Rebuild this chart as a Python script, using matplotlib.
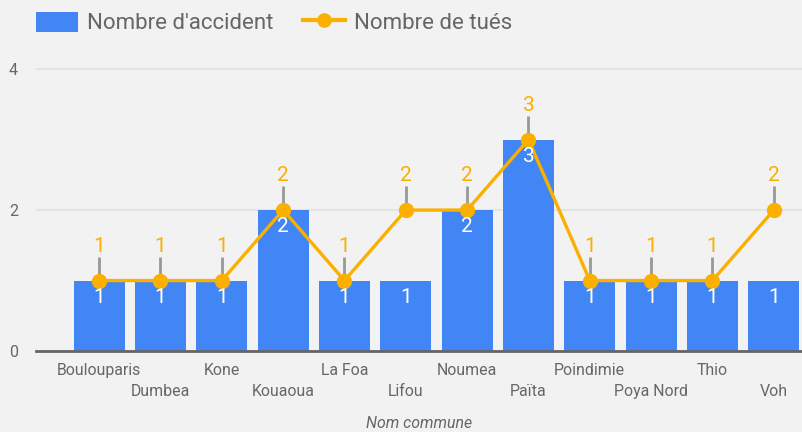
import matplotlib.pyplot as plt
from matplotlib.patches import Patch
from matplotlib.lines import Line2D
import numpy as np

plt.rcParams['font.family'] = ['Roboto', 'DejaVu Sans']

# données
communes = ['Boulouparis', 'Dumbea', 'Kone', 'Kouaoua', 'La Foa', 'Lifou',
            'Noumea', 'Païta', 'Poindimie', 'Poya Nord', 'Thio', 'Voh']
accidents = [1, 1, 1, 2, 1, 1, 2, 3, 1, 1, 1, 1]
tues = [1, 1, 1, 2, 1, 2, 2, 3, 1, 1, 1, 2]

BLUE = '#4285F4'
ORANGE = '#FBB000'
GREY = '#666666'
BG = '#F2F2F2'

fig = plt.figure(figsize=(8.02, 4.32), dpi=100, facecolor=BG)
ax = fig.add_axes([36 / 802, 1 - 351 / 432, 1 - 36 / 802, (351 - 48) / 432])
ax.set_facecolor(BG)

x = np.arange(len(communes))
ax.bar(x, accidents, width=0.83, color=BLUE, zorder=2)
ax.plot(x, tues, color=ORANGE, lw=2.4, marker='o', markersize=10, zorder=4,
        solid_joinstyle='round')

# étiquettes des barres
for xi, v in zip(x, accidents):
    ax.annotate(str(v), (xi, v), xytext=(0, -12), textcoords='offset points',
                ha='center', va='center', color='white', fontsize=15, zorder=5)

# étiquettes de la ligne avec petite tige grise
for xi, v in zip(x, tues):
    ax.plot([xi, xi], [v, v + 0.34], color='#999999', lw=2, zorder=3,
            solid_capstyle='butt')
    ax.text(xi, v + 0.49, str(v), ha='center', va='center', color=ORANGE,
            fontsize=15, zorder=5, clip_on=False)

ax.set_xlim(-1.03, 11.46)
ax.set_ylim(0, 4.3)
ax.set_yticks([0, 2, 4])
ax.tick_params(axis='y', length=0, pad=13, labelcolor=GREY, labelsize=11.5)
ax.set_xticks([])
ax.yaxis.grid(True, color='#E3E3E3', lw=1.5, zorder=0)
ax.set_axisbelow(True)
for s in ['top', 'right', 'left']:
    ax.spines[s].set_visible(False)
ax.spines['bottom'].set_color(GREY)
ax.spines['bottom'].set_linewidth(2)
ax.spines['bottom'].set_zorder(6)

# noms des communes sur deux rangées
trans = ax.get_xaxis_transform()
for i, name in enumerate(communes):
    y = -0.065 if i % 2 == 0 else -0.135
    ax.text(i, y, name, transform=trans, ha='center', va='center',
            color=GREY, fontsize=11.4, clip_on=False)

ax.set_xlabel('Nom commune', fontstyle='italic', color=GREY, fontsize=11.4,
              labelpad=47)

handles = [Patch(facecolor=BLUE, edgecolor='none'),
           Line2D([], [], color=ORANGE, lw=3, marker='o', markersize=9.5)]
fig.legend(handles, ["Nombre d'accident", 'Nombre de tués'], loc='center left',
           bbox_to_anchor=(36 / 802, 1 - 23 / 432), ncol=2, frameon=False,
           fontsize=16, labelcolor=GREY, handlelength=1.9, handleheight=1.0,
           columnspacing=1.35, handletextpad=0.38, borderpad=0,
           borderaxespad=0)

fig.savefig('out.png', dpi=100, facecolor=BG)
